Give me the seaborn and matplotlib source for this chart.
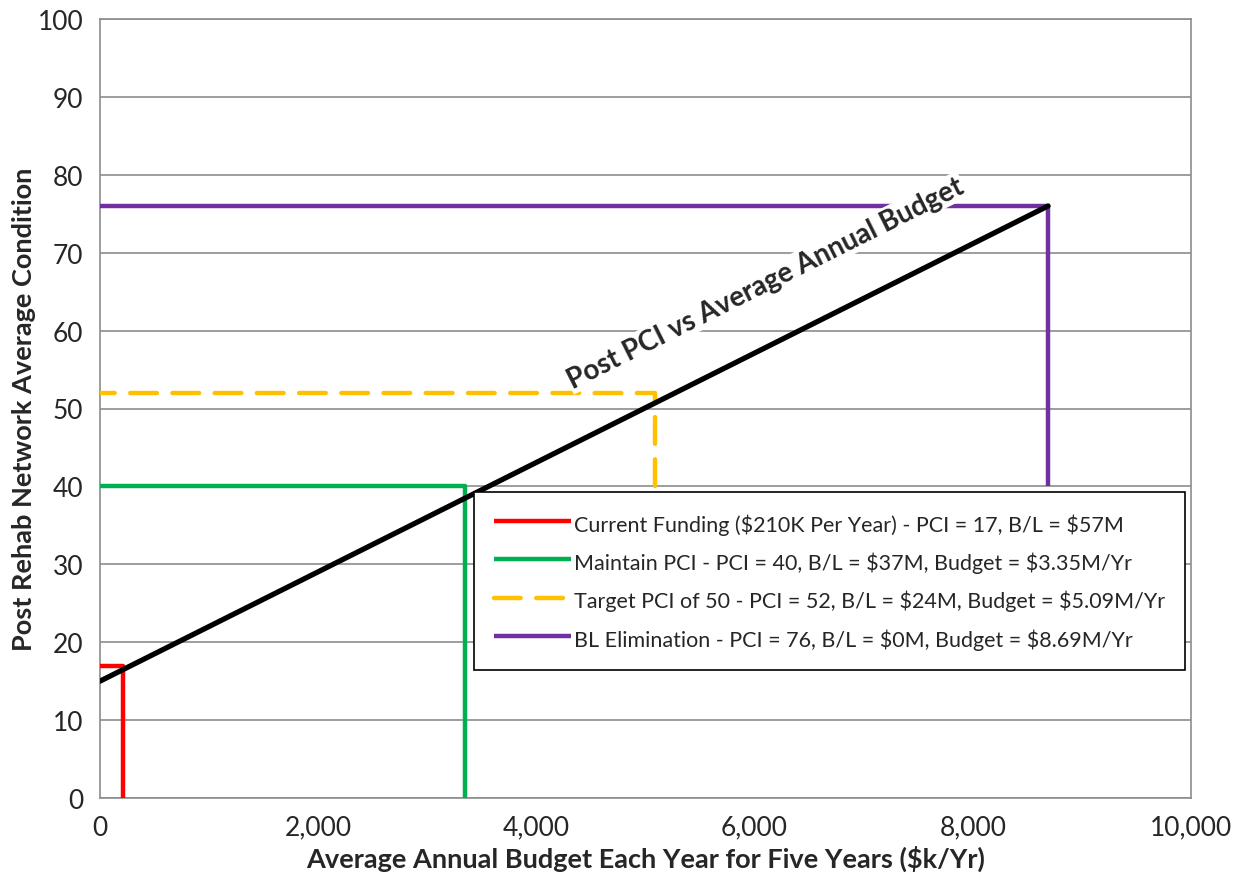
import matplotlib
matplotlib.use("Agg")
import matplotlib.pyplot as plt
import seaborn as sns
import pandas as pd
import numpy as np

# Trend: post-rehab PCI vs average annual budget ($k/Yr)
trend_budget = [0, 8690]
trend_pci = [15, 76]

# Scenario budgets ($k/Yr) and resulting PCI
current_budget, current_pci = 210, 17
maintain_budget, maintain_pci = 3350, 40
target_budget, target_pci = 5090, 52
bl_budget, bl_pci = 8690, 76

scenario_labels = [
    "Current Funding ($210K Per Year) - PCI = 17, B/L = $57M",
    "Maintain PCI - PCI = 40, B/L = $37M, Budget = $3.35M/Yr",
    "Target PCI of 50 - PCI = 52, B/L = $24M, Budget = $5.09M/Yr",
    "BL Elimination - PCI = 76, B/L = $0M, Budget = $8.69M/Yr",
]
scenario_colors = ["#FF0000", "#00B050", "#FFC000", "#7030A0"]


def esc(s):
    """Keep dollar signs literal (no mathtext)."""
    return s.replace("$", r"\$")


sns.set_style("white")
plt.rcParams["font.family"] = ["Lato", "DejaVu Sans"]

fig = plt.figure(figsize=(12.46, 8.95), dpi=100)
ax = fig.add_axes([100 / 1246, 96 / 895, 1091 / 1246, 779 / 895])

# Scenario guide lines (drop lines to the axes)
paths = [
    ([current_budget, current_budget, 0], [0, current_pci, current_pci]),
    ([maintain_budget, maintain_budget, 0], [0, maintain_pci, maintain_pci]),
    ([target_budget, target_budget, 0], [maintain_pci, target_pci, target_pci]),
    ([bl_budget, bl_budget, 0], [maintain_pci, bl_pci, bl_pci]),
]
handles = []
for i, ((xs, ys), color, label) in enumerate(zip(paths, scenario_colors, scenario_labels)):
    df = pd.DataFrame({"x": xs, "y": ys})
    sns.lineplot(data=df, x="x", y="y", sort=False, estimator=None, ax=ax,
                 color=color, linewidth=3.2, zorder=3)
    line = ax.lines[-1]
    if i == 2:
        line.set_dashes((6, 3.5))
        line.set_dash_capstyle("round")
    line.set_solid_capstyle("butt")
    handles.append(line)

# Main trend line
trend_df = pd.DataFrame({"budget": trend_budget, "pci": trend_pci})
sns.lineplot(data=trend_df, x="budget", y="pci", color="black", linewidth=3.8,
             ax=ax, zorder=4)

ax.set_xlim(0, 10000)
ax.set_ylim(0, 100)
ax.set_xticks(np.arange(0, 10001, 2000))
ax.set_yticks(np.arange(0, 101, 10))
ax.set_xticklabels([f"{v:,}" for v in range(0, 10001, 2000)])
ax.grid(axis="y", color="#8c8c8c", linewidth=1.2)
ax.grid(axis="x", visible=False)
for s in ax.spines.values():
    s.set_color("#8c8c8c")
    s.set_linewidth(1.2)
ax.tick_params(axis="both", which="major", direction="out", length=7,
               width=1.2, color="#8c8c8c", labelsize=19, pad=5)

ax.set_xlabel(esc("Average Annual Budget Each Year for Five Years ($k/Yr)"),
              fontsize=19.5, fontweight="bold", labelpad=4)
ax.set_ylabel("Post Rehab Network Average Condition",
              fontsize=19.5, fontweight="bold", labelpad=1)

# Label along the trend line
fig.canvas.draw()
p0 = ax.transData.transform((trend_budget[0], trend_pci[0]))
p1 = ax.transData.transform((trend_budget[1], trend_pci[1]))
angle = np.degrees(np.arctan2(p1[1] - p0[1], p1[0] - p0[0]))
ax.text(4330, 52.6, "Post PCI vs Average Annual Budget", rotation=angle,
        rotation_mode="anchor", ha="left", va="baseline", fontsize=20,
        fontweight="bold", zorder=5,
        bbox=dict(facecolor="white", edgecolor="none", pad=1))

leg = ax.legend(handles=handles, labels=[esc(s) for s in scenario_labels],
                loc="upper right", bbox_to_anchor=(0.9945, 0.3928),
                borderaxespad=0, fontsize=15.5, frameon=True, fancybox=False,
                edgecolor="black", framealpha=1, handlelength=3.6,
                handleheight=1.4, handletextpad=0.15, labelspacing=0.62,
                borderpad=0.9)
leg.get_frame().set_linewidth(1.2)
leg.set_zorder(6)

fig.savefig("out.png", dpi=100)
